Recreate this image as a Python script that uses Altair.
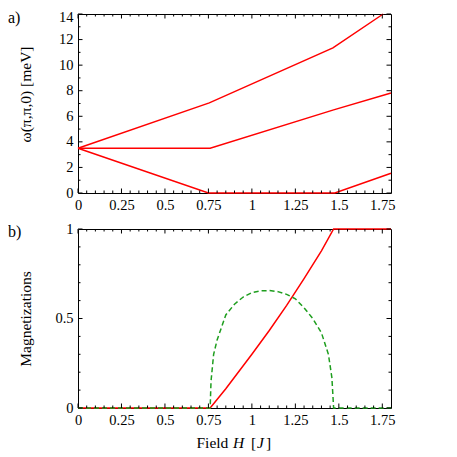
import altair as alt
import pandas as pd

SERIF = "Liberation Serif"
RED = "#ff0000"
GREEN = "#1e9e1e"

# ---- panel a) spin-wave energies omega(pi,pi,0) vs field ----
upper_H = [0.0, 0.755, 1.466, 1.755]
upper_w = [3.5, 7.05, 11.35, 14.0]
mid_H = [0.0, 0.76, 1.47, 1.8]
mid_w = [3.5, 3.5, 6.5, 7.82]
low_H = [0.0, 0.75, 1.477, 1.8]
low_w = [3.5, 0.0, 0.0, 1.54]

# ---- panel b) magnetizations vs field ----
mag_H = [0.0, 0.76, 0.85, 1.0, 1.1, 1.2, 1.3, 1.4, 1.47, 1.8]
mag_M = [0.0, 0.0, 0.108, 0.30, 0.433, 0.573, 0.723, 0.878, 1.0, 1.0]
stag_H = [0.0, 0.76, 0.765, 0.78, 0.80, 0.85, 0.9, 0.95, 1.0, 1.05, 1.1,
          1.15, 1.2, 1.25, 1.3, 1.35, 1.4, 1.44, 1.46, 1.47, 1.8]
stag_M = [0.0, 0.0, 0.15, 0.30, 0.38, 0.52, 0.58, 0.62, 0.645, 0.655, 0.656,
          0.65, 0.635, 0.61, 0.56, 0.50, 0.42, 0.30, 0.17, 0.0, 0.0]

# ---- tick values ----
x_major = [0, 0.25, 0.5, 0.75, 1.0, 1.25, 1.5, 1.75]
x_minor = [round(i * 0.05, 2) for i in range(1, 36) if i % 5]
ya_major = [0, 2, 4, 6, 8, 10, 12, 14]
ya_minor = [1, 3, 5, 7, 9, 11, 13]
yb_major = [0, 0.5, 1.0]
yb_minor = [0.1, 0.2, 0.3, 0.4, 0.6, 0.7, 0.8, 0.9]

W = 313
H = 179
MAJ = 4.5
MIN = 2.5

xs = alt.Scale(domain=[0, 1.8], nice=False, zero=False)
xaxis = alt.Axis(values=x_major, format=".3~g", labelFlush=False, title=None)


def ticks(xs, xaxis):
    layers = []
    for vals, ln in ((x_major, MAJ), (x_minor, MIN)):
        df = pd.DataFrame({"H": vals})
        for y0, y1 in ((H, H - ln), (0, ln)):
            layers.append(
                alt.Chart(df).mark_rule(color="black", strokeWidth=1).encode(
                    x=alt.X("H:Q", scale=xs, axis=xaxis),
                    y=alt.value(y0), y2=alt.value(y1)))
    return layers


def yticks(ys, yaxis, major, minor):
    layers = []
    for vals, ln in ((major, MAJ), (minor, MIN)):
        df = pd.DataFrame({"v": vals})
        for x0, x1 in ((0, ln), (W, W - ln)):
            layers.append(
                alt.Chart(df).mark_rule(color="black", strokeWidth=1).encode(
                    y=alt.Y("v:Q", scale=ys, axis=yaxis),
                    x=alt.value(x0), x2=alt.value(x1)))
    return layers


def label(txt, x, y, italic=False, size=16):
    return alt.Chart(alt.Data(values=[{}])).mark_text(
        text=txt, font=SERIF, fontSize=size, align="left",
        baseline="alphabetic", color="black",
        fontStyle="italic" if italic else "normal").encode(
        x=alt.value(x), y=alt.value(y))


def line(Hs, Vs, ys, yaxis, color, dash=None):
    df = pd.DataFrame({"H": Hs, "v": Vs})
    kw = dict(color=color, strokeWidth=1.5)
    if dash:
        kw["strokeDash"] = dash
    return alt.Chart(df).mark_line(**kw).encode(
        x=alt.X("H:Q", scale=xs, axis=xaxis),
        y=alt.Y("v:Q", scale=ys, axis=yaxis))


# panel a
ysa = alt.Scale(domain=[0, 14], nice=False)
yaxis_a = alt.Axis(values=ya_major, format=".3~g", title="ω(π,π,0) [meV]",
                   titleX=-45, titleY=80,
                   labelOffset={"condition": {"test": "datum.value == 14",
                                              "value": 3}, "value": 0})

top = alt.layer(
    line(upper_H, upper_w, ysa, yaxis_a, RED),
    line(mid_H, mid_w, ysa, yaxis_a, RED),
    line(low_H, low_w, ysa, yaxis_a, RED),
    *ticks(xs, xaxis),
    *yticks(ysa, yaxis_a, ya_major, ya_minor),
    label("a)", -70, 9),
).properties(width=W, height=H)

# panel b
ysb = alt.Scale(domain=[0, 1], nice=False)
yaxis_b = alt.Axis(values=yb_major, format=".3~g", title="Magnetizations",
                   titleX=-45)

bottom = alt.layer(
    line(mag_H, mag_M, ysb, yaxis_b, RED),
    line(stag_H, stag_M, ysb, yaxis_b, GREEN, dash=[5, 3]),
    *ticks(xs, xaxis),
    *yticks(ysb, yaxis_b, yb_major, yb_minor),
    label("b)", -70, 8),
    label("Field", 118.5, H + 40, size=15.5),
    label("H", 155, H + 40, italic=True, size=15.5),
    label("[", 173, H + 40, size=15.5),
    label("J", 179, H + 40, italic=True, size=15.5),
    label("]", 188, H + 40, size=15.5),
).properties(width=W, height=H)

chart = alt.vconcat(top, bottom, spacing=8).properties(
    padding={"left": -1, "top": 0, "right": 5, "bottom": 0}
).configure_view(stroke="black", strokeWidth=1).configure_axis(
    domain=False, ticks=False, tickSize=0, grid=False,
    labelFont=SERIF, labelFontSize=14.5, labelColor="black", labelPadding=5,
    titleFont=SERIF, titleFontSize=15.5, titleFontWeight="normal",
    titleColor="black", titleBaseline="bottom",
)

chart.save("out.html", embed_options={"renderer": "svg", "actions": False})
